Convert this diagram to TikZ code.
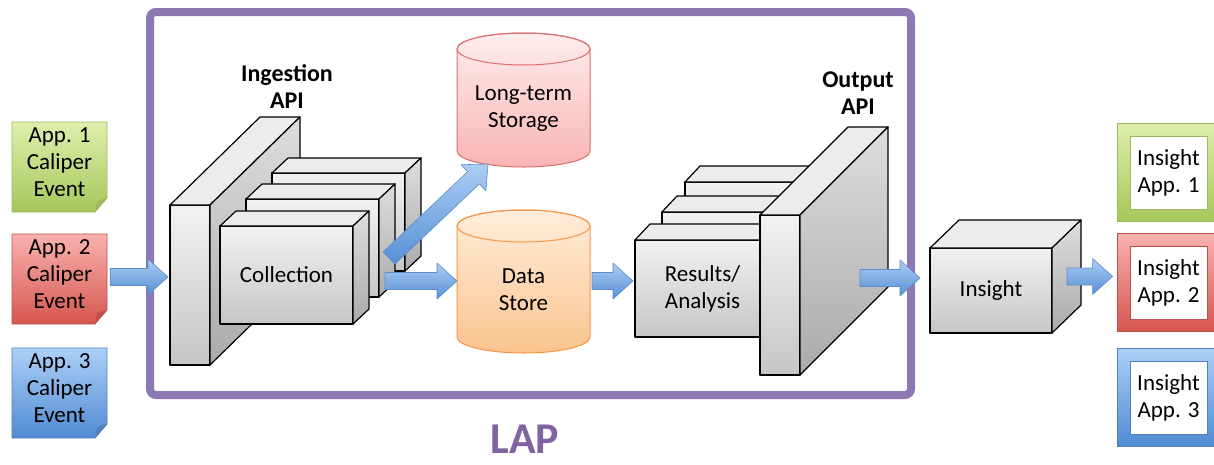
\documentclass[tikz,border=0pt]{standalone}
\usepackage{fontspec}
\setmainfont{Carlito}
\usetikzlibrary{calc}

\definecolor{boxtop}{RGB}{242,242,242}
\definecolor{boxbot}{RGB}{198,198,198}
\definecolor{boxlid}{RGB}{236,236,236}
\definecolor{sidetop}{RGB}{222,222,222}
\definecolor{sidebot}{RGB}{170,170,170}
\definecolor{arrowtop}{RGB}{172,206,245}
\definecolor{arrowbot}{RGB}{86,143,212}
\definecolor{arrowline}{RGB}{95,140,200}
\definecolor{greentop}{RGB}{222,239,172}
\definecolor{greenbot}{RGB}{166,199,92}
\definecolor{greenline}{RGB}{155,187,89}
\definecolor{redtop}{RGB}{249,178,175}
\definecolor{redbot}{RGB}{214,86,79}
\definecolor{redline}{RGB}{192,80,77}
\definecolor{bluetop}{RGB}{172,208,247}
\definecolor{bluebot}{RGB}{80,139,211}
\definecolor{blueline}{RGB}{79,129,189}
\definecolor{ltstop}{RGB}{254,237,237}
\definecolor{ltsbot}{RGB}{249,180,180}
\definecolor{ltsline}{RGB}{218,112,110}
\definecolor{dstop}{RGB}{255,237,219}
\definecolor{dsbot}{RGB}{251,196,142}
\definecolor{dsline}{RGB}{247,150,70}
\definecolor{lapframe}{RGB}{141,121,178}
\definecolor{laptext}{RGB}{128,100,162}

\tikzset{
  face/.style={draw, line width=1.2pt, line join=round},
  front/.style={face, outer sep=0pt, align=center, top color=boxtop, bottom color=boxbot},
  lid/.style={face, fill=boxlid},
  side/.style={face, top color=sidetop, bottom color=sidebot},
  apilabel/.style={font=\fontsize{24}{27}\selectfont\bfseries, align=center},
  fat/.style={draw=arrowline, line width=0.6pt, line join=round, top color=arrowtop, bottom color=arrowbot}
}

% top and right faces of a box node
\newcommand\lidside[3]{%
  \draw[lid] (#1.north west) -- ++(#2,#3) -- ($(#1.north east)+(#2,#3)$) -- (#1.north east) -- cycle;
  \draw[side] (#1.north east) -- ++(#2,#3) -- ($(#1.south east)+(#2,#3)$) -- (#1.south east) -- cycle;}

% centre x, top y, bottom y, top colour, bottom colour, line colour
\newcommand\drum[6]{%
  \draw[line width=1pt, draw=#6, top color=#4, bottom color=#5]
    ({#1-66.5},#2) -- ({#1-66.5},#3) arc[start angle=180, end angle=0, x radius=66.5, y radius=16]
    -- ({#1+66.5},#2) arc[start angle=0, end angle=-180, x radius=66.5, y radius=16] -- cycle;
  \draw[line width=1pt, draw=#6] (#1,#2) ellipse [x radius=66.5, y radius=16];}

% name, top y, top colour, bottom colour, line colour, text
\newcommand\calnote[6]{%
  \draw[line width=0.8pt, draw=#5, top color=#3, bottom color=#4]
    (12,#2) -- (107,#2) -- (107,{#2+76}) -- (95,{#2+90}) -- (12,{#2+90}) -- cycle;
  \fill[#5] (107,{#2+76}) -- (95,{#2+90}) -- (97,{#2+79}) -- cycle;
  \node[minimum width=95pt, minimum height=80pt, align=center] (#1) at (59.5,{#2+40}) {#6};}

% name, top y, top colour, bottom colour, line colour, text
\newcommand\insightapp[6]{%
  \draw[line width=0.8pt, draw=#5, top color=#3, bottom color=#4] (1117,#2) rectangle (1224,{#2+98});
  \node[draw=#5, line width=0.8pt, fill=white, minimum width=77pt, minimum height=73pt, align=center]
    (#1) at (1168.5,{#2+49.5}) {#6};}

% block arrow from #1 to #2
\newcommand\fatarrow[2]{%
  \coordinate (hb) at ($(#2)!20pt!(#1)$);
  \draw[fat] ($(#1)!8.5pt!90:(#2)$) -- ($(hb)!8.5pt!90:(#2)$) -- ($(hb)!18pt!90:(#2)$) -- (#2)
    -- ($(hb)!18pt!-90:(#2)$) -- ($(hb)!8.5pt!-90:(#2)$) -- ($(#1)!8.5pt!-90:(#2)$) -- cycle;}

\begin{document}
\begin{tikzpicture}[x=1pt, y=-1pt, font=\fontsize{23}{27}\selectfont]
\useasboundingbox (0,0) rectangle (1214,464);
% LAP frame
\draw[lapframe, line width=8pt, rounded corners=6pt] (150,12) rectangle (911,395);
\node[text=laptext, inner sep=0pt, font=\fontsize{44}{48}\selectfont\bfseries] (lap) at (525,439) {LAP};
% caliper events
\calnote{ev1}{122}{greentop}{greenbot}{greenline}{App. 1\\Caliper\\Event}
\calnote{ev2}{234}{redtop}{redbot}{redline}{App. 2\\Caliper\\Event}
\calnote{ev3}{348}{bluetop}{bluebot}{blueline}{App. 3\\Caliper\\Event}
% ingestion API
\node[front, minimum width=40pt, minimum height=160pt] (inapi) at (190,285) {};
\lidside{inapi}{90}{-88}
\node[apilabel] (inlabel) at (287,87) {Ingestion\\API};
% collection
\node[front, minimum width=133pt, minimum height=98pt] (coll3) at (338.5,222) {};
\lidside{coll3}{16}{-15}
\node[front, minimum width=133pt, minimum height=98pt] (coll2) at (312.5,248) {};
\lidside{coll2}{16}{-15}
\node[front, minimum width=133pt, minimum height=98pt] (coll1) at (286.5,275) {Collection};
\lidside{coll1}{16}{-15}
% storage
\drum{523.5}{49}{151}{ltstop}{ltsbot}{ltsline}
\node[align=center] (lts) at (523.5,109) {Long-term\\Storage};
\drum{523.5}{226}{337}{dstop}{dsbot}{dsline}
\node[align=center] (ds) at (523.5,290) {Data\\Store};
% results
\node[front, minimum width=135pt, minimum height=97pt] (res3) at (752.5,230.5) {};
\lidside{res3}{15}{-16}
\node[front, minimum width=135pt, minimum height=97pt] (res2) at (729.5,260.5) {};
\lidside{res2}{15}{-16}
\node[front, minimum width=135pt, minimum height=97pt] (res1) at (702.5,288.5) {Results/\\Analysis};
\lidside{res1}{15}{-16}
% output API
\node[front, minimum width=40pt, minimum height=160pt] (outapi) at (780,295) {};
\lidside{outapi}{88}{-88}
\node[apilabel] (outlabel) at (858,93) {Output\\API};
% insight
\node[front, minimum width=122pt, minimum height=85pt] (insight) at (991,290.5) {Insight};
\lidside{insight}{29}{-28}
\insightapp{app1}{123}{greentop}{greenbot}{greenline}{Insight\\App. 1}
\insightapp{app2}{233}{redtop}{redbot}{redline}{Insight\\App. 2}
\insightapp{app3}{348}{bluetop}{bluebot}{blueline}{Insight\\App. 3}
% arrows
\coordinate (ev-out) at ($(ev2.east)+(3,3)$);
\coordinate (api-in) at ($(inapi.west |- ev-out)+(-2,0)$);
\coordinate (coll-up) at ($(coll2.east)+(10,10)$);
\coordinate (lts-in) at (488,164);
\coordinate (coll-out) at ($(coll2.east)+(6,33)$);
\coordinate (ds-in) at (457,281);
\coordinate (ds-out) at (592,281);
\coordinate (res-in) at ($(res1.west |- ds-out)+(-2,0)$);
\coordinate (api-out) at ($(outapi.east)+(60,-17)$);
\coordinate (ins-in) at ($(insight.west |- api-out)+(-10,0)$);
\coordinate (ins-out) at ($(insight.east)+(15,-14)$);
\coordinate (app-in) at ($(app2.west |- ins-out)+(-17,0)$);
\fatarrow{ev-out}{api-in}
\fatarrow{coll-up}{lts-in}
\fatarrow{coll-out}{ds-in}
\fatarrow{ds-out}{res-in}
\fatarrow{api-out}{ins-in}
\fatarrow{ins-out}{app-in}
\end{tikzpicture}
\end{document}
